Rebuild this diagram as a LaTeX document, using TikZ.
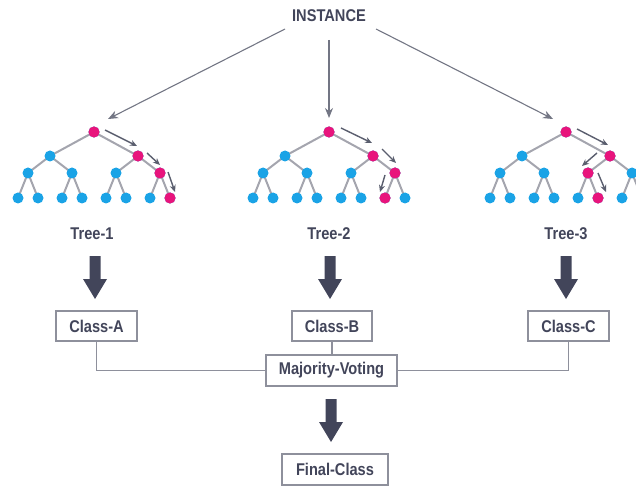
\documentclass[tikz,border=0pt]{standalone}
\usepackage{fontspec}
\setmainfont{Liberation Sans}[FakeStretch=0.86]
\usetikzlibrary{arrows.meta,backgrounds}
\definecolor{ink}{HTML}{42455A}
\definecolor{boxgray}{HTML}{8E909C}
\definecolor{edgegray}{HTML}{A4A5AE}
\definecolor{arrgray}{HTML}{5A5E6E}
\definecolor{nblue}{HTML}{1AA3E6}
\definecolor{npink}{HTML}{E8147C}
\tikzset{
  bn/.style={circle,fill=nblue,minimum size=11pt,inner sep=0pt},
  tedge/.style={draw=edgegray,line width=2pt},
  smallarr/.style={draw=arrgray,line width=1.4pt,-{Stealth[length=7pt,width=6pt]}},
  instarr/.style={draw=arrgray!85,line width=1.1pt,-{Stealth[length=10pt,width=8pt]}},
  lbl/.style={text=ink,font=\fontsize{17}{20}\selectfont\bfseries,inner sep=0pt},
  cbox/.style={draw=boxgray,line width=1.7pt,fill=white,text=ink,
     font=\fontsize{17}{20}\selectfont\bfseries,inner sep=0pt,minimum height=30pt},
  conn/.style={draw=boxgray,line width=1.7pt},
  blockarr/.style={fill=ink}
}
\newcommand\drawtree[2]{%
  \node[bn] (#1r) at (#2,132) {};
  \node[bn] (#1a) at (#2-44,156) {};
  \node[bn] (#1b) at (#2+44,156) {};
  \node[bn] (#1aa) at (#2-66,173) {};
  \node[bn] (#1ab) at (#2-22,173) {};
  \node[bn] (#1ba) at (#2+22,173) {};
  \node[bn] (#1bb) at (#2+66,173) {};
  \node[bn] (#1aaa) at (#2-76,198) {};
  \node[bn] (#1aab) at (#2-56,198) {};
  \node[bn] (#1aba) at (#2-32,198) {};
  \node[bn] (#1abb) at (#2-12,198) {};
  \node[bn] (#1baa) at (#2+12,198) {};
  \node[bn] (#1bab) at (#2+32,198) {};
  \node[bn] (#1bba) at (#2+56,198) {};
  \node[bn] (#1bbb) at (#2+76,198) {};
  \begin{pgfonlayer}{background}
  \draw[tedge] (#1aa.center) -- (#1a.center) -- (#1r.center) -- (#1b.center) -- (#1bb.center);
  \draw[tedge] (#1a.center) -- (#1ab.center);
  \draw[tedge] (#1b.center) -- (#1ba.center);
  \draw[tedge] (#1aaa.center) -- (#1aa.center) -- (#1aab.center);
  \draw[tedge] (#1aba.center) -- (#1ab.center) -- (#1abb.center);
  \draw[tedge] (#1baa.center) -- (#1ba.center) -- (#1bab.center);
  \draw[tedge] (#1bba.center) -- (#1bb.center) -- (#1bbb.center);
  \end{pgfonlayer}
}
\newcommand\blockdown[3]{% x, top, tip
  \fill[blockarr] (#1-5.5,#2) -- (#1+5.5,#2) -- (#1+5.5,#3-20) -- (#1+12,#3-20)
     -- (#1,#3) -- (#1-12,#3-20) -- (#1-5.5,#3-20) -- cycle;
}
\begin{document}
\begin{tikzpicture}[x=1pt,y=-1pt]
\useasboundingbox (0,0) rectangle (636,486);
\clip (0,0) rectangle (636,486);

% instance
\node[lbl] (inst) at (329,16) {INSTANCE};

% trees
\drawtree{t1}{94}
\drawtree{t2}{329}
\drawtree{t3}{566}

% pink paths
\foreach \n in {t1r,t1b,t1bb,t1bbb,t2r,t2b,t2bb,t2bba,t3r,t3b,t3ba,t3bab}
  \fill[npink] (\n) circle (5.6pt);

% instance arrows
\coordinate (i1) at (285,29);
\coordinate (i2) at (329,40);
\coordinate (i3) at (376,29);
\draw[instarr] (i1) -- ([shift={(14,-13)}]t1r.center);
\draw[instarr] (i2) -- ([shift={(0,-14)}]t2r.center);
\draw[instarr] (i3) -- ([shift={(-13,-13)}]t3r.center);

% small traversal arrows
\draw[smallarr] (105,130) -- (137,146);
\draw[smallarr] (147,153) -- (160,165);
\draw[smallarr] (168,172) -- (175,192);
\draw[smallarr] (341,128) -- (372,143);
\draw[smallarr] (382,149) -- (396,163);
\draw[smallarr] (385,175) -- (380,192);
\draw[smallarr] (577,129) -- (608,145);
\draw[smallarr] (597,153) -- (582,166);
\draw[smallarr] (598,173) -- (606,192);

% tree labels
\node[lbl] (l1) at (92,234) {Tree-1};
\node[lbl] (l2) at (329,234) {Tree-2};
\node[lbl] (l3) at (566,234) {Tree-3};

% block arrows
\blockdown{95}{256}{299}
\blockdown{330}{256}{299}
\blockdown{566}{256}{299}
\blockdown{331}{399}{442}

% boxes
\node[cbox,minimum width=81pt] (ca) at (96.5,326) {Class-A};
\node[cbox,minimum width=80pt] (cb) at (332,326) {Class-B};
\node[cbox,minimum width=81pt] (cc) at (568.5,326) {Class-C};
\node[cbox,minimum width=131pt,minimum height=31pt] (mv) at (331.5,370.5) {Majority-Voting};
\node[cbox,minimum width=106pt,minimum height=31pt] (fc) at (335,469.5) {Final-Class};

\begin{pgfonlayer}{background}
\draw[conn] (ca.south) |- (mv.west);
\draw[conn] (cb.south) -- (cb.south |- mv.north);
\draw[conn] (cc.south) |- (mv.east);
\end{pgfonlayer}
\end{tikzpicture}
\end{document}
